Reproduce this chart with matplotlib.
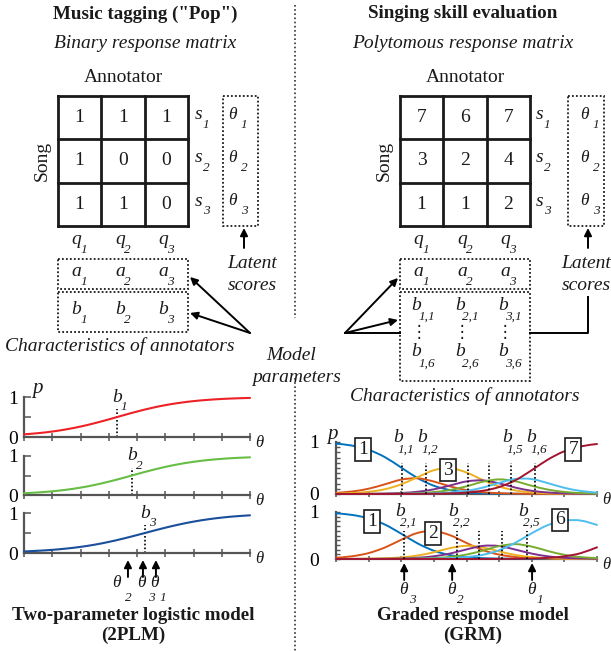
import numpy as np
import matplotlib
matplotlib.use("Agg")
import matplotlib.pyplot as plt
from matplotlib.path import Path
from matplotlib.patches import PathPatch, Rectangle
from matplotlib.transforms import blended_transform_factory

plt.rcParams['font.family'] = ['Liberation Serif', 'DejaVu Sans']

W, H = 611, 651

# response matrices (rows = songs, columns = annotators)
binary_resp = [[1, 1, 1], [1, 0, 0], [1, 1, 0]]
poly_resp = [[7, 6, 7], [3, 2, 4], [1, 1, 2]]

# theta positions where the curves were read (in tick units)
theta = [0, 0.5, 1, 1.5, 2, 2.5, 3, 3.5, 4, 4.5, 5, 5.5, 6, 6.5, 7, 7.5, 8]

# 2PLM curves, one per annotator
plm_q1 = [.067, .096, .137, .192, .261, .345, .440, .540, .636, .723, .796, .853, .897, .928, .951, .966, .977]
plm_q2 = [.045, .066, .095, .135, .189, .258, .342, .436, .536, .633, .720, .793, .851, .895, .927, .950, .966]
plm_q3 = [.039, .056, .079, .111, .153, .208, .277, .358, .448, .541, .632, .714, .784, .841, .885, .918, .942]
plm_b = [3.30, 3.82, 4.28]
plm_theta = [4.67, 3.68, 4.21]      # theta_1, theta_2, theta_3

# GRM category curves (categories 1..7) for annotators 1 and 2
grm_q1 = [
    [.969, .930, .850, .708, .508, .307, .159, .075, .033, .015, .006, .003, .001, 0, 0, 0, 0],
    [.022, .049, .102, .187, .276, .302, .240, .146, .075, .034, .016, .006, .003, .002, .001, 0, 0],
    [.008, .019, .042, .092, .186, .324, .457, .497, .413, .269, .144, .069, .031, .013, .006, .003, .001],
    [.001, .001, .004, .009, .020, .043, .090, .165, .242, .261, .205, .123, .062, .029, .012, .005, .003],
    [0, .001, .001, .003, .007, .016, .037, .077, .148, .236, .281, .244, .158, .084, .040, .018, .007],
    [0, 0, .001, .001, .002, .006, .012, .028, .062, .123, .214, .290, .287, .208, .119, .059, .027],
    [0, 0, 0, 0, .001, .002, .005, .012, .027, .062, .134, .265, .458, .664, .822, .915, .962],
]
grm_q1_b = [2.02, 2.76, 4.05, 4.69, 5.37, 6.10]
grm_q2 = [
    [.972, .937, .864, .732, .538, .332, .176, .083, .037, .017, .007, .003, .001, 0, 0, 0, 0],
    [.026, .059, .126, .245, .410, .555, .594, .505, .342, .190, .093, .043, .019, .009, .004, .002, .001],
    [.001, .003, .007, .016, .035, .074, .144, .232, .281, .246, .162, .086, .041, .018, .008, .003, .001],
    [.001, .001, .002, .005, .012, .027, .058, .117, .204, .279, .276, .200, .115, .056, .025, .012, .005],
    [0, 0, .001, .001, .004, .009, .020, .045, .095, .178, .274, .316, .265, .169, .089, .041, .019],
    [0, 0, 0, .001, .001, .003, .008, .018, .041, .089, .186, .347, .548, .723, .817, .818, .725],
    [0, 0, 0, 0, 0, 0, 0, 0, 0, .001, .002, .005, .011, .025, .057, .124, .249],
]
grm_q2_b = [2.09, 3.71, 4.39, 5.09, 5.86]
grm_theta = [6.01, 3.56, 2.09]      # theta_1, theta_2, theta_3

plm_colors = ['#ec2227', '#67bd45', '#1b4f9c']
grm_colors = ['#0072BD', '#D95319', '#EDB120', '#7E2F8E', '#77AC30', '#4DBEEE', '#A2142F']

fig = plt.figure(figsize=(W / 100, H / 100), dpi=100)
ax0 = fig.add_axes([0, 0, 1, 1])
ax0.set_xlim(0, W)
ax0.set_ylim(H, 0)
ax0.axis('off')

INK = '#1a1a1a'
FS = 14
TFS = 13.7
SUB = 9.5


def txt(x, y, s, size=FS, **kw):
    ax0.text(x, y, s, fontsize=size, ha='center', va='center', color=INK, **kw)


def slabel(ax, xy, base, sub, off=(7, -9), coords='data', size=FS, ssize=SUB, boff=(0, 0)):
    ax.annotate(base, xy, xycoords=coords, xytext=boff, textcoords='offset pixels',
                fontsize=size, style='italic', ha='center', va='center', color=INK,
                annotation_clip=False)
    ax.annotate(sub, xy, xycoords=coords, xytext=(boff[0] + off[0], boff[1] + off[1]),
                textcoords='offset pixels', fontsize=ssize, style='italic',
                ha='center', va='center', color=INK, annotation_clip=False)


def arrow(p_from, p_to, head=True):
    ax0.annotate('', xy=p_to, xytext=p_from,
                 arrowprops=dict(arrowstyle='-|>' if head else '-', color='k', lw=1.4,
                                 mutation_scale=11, shrinkA=0, shrinkB=0))


def dotbox(x0, y0, x1, y1):
    ax0.add_patch(Rectangle((x0, y0), x1 - x0, y1 - y0, fill=False, ec=INK,
                            lw=1.3, ls=(0, (1, 1.2))))


def smooth(ax, xs, ys, color, lw=1.4):
    pts = np.column_stack([xs, ys]).astype(float)
    n = len(pts)
    verts, codes = [pts[0]], [Path.MOVETO]
    for i in range(n - 1):
        p0, p1 = pts[max(i - 1, 0)], pts[i]
        p2, p3 = pts[i + 1], pts[min(i + 2, n - 1)]
        verts += [p1 + (p2 - p0) / 6, p2 - (p3 - p1) / 6, p2]
        codes += [Path.CURVE4] * 3
    ax.add_patch(PathPatch(Path(verts, codes), fill=False, ec=color, lw=lw,
                           zorder=3, clip_on=False, capstyle='round'))


# ---------------- top part: matrices ----------------
CELL = 43.3
Y0 = 96


def panel(mx, vals, s_x, box, th_x):
    n = len(vals)
    for i in range(n + 1):
        ax0.plot([mx, mx + n * CELL], [Y0 + i * CELL] * 2, color=INK, lw=2, solid_capstyle='projecting')
        ax0.plot([mx + i * CELL] * 2, [Y0, Y0 + n * CELL], color=INK, lw=2, solid_capstyle='projecting')
    for r, row in enumerate(vals):
        cy = Y0 + (r + 0.5) * CELL
        for c, v in enumerate(row):
            txt(mx + (c + 0.5) * CELL, cy, str(v))
        slabel(ax0, (s_x, cy - 3), 's', str(r + 1), off=(7, -10))
        slabel(ax0, (th_x, cy - 3), '\u03b8', str(r + 1), off=(12, -10), size=12.5)
    dotbox(box[0], Y0, box[1], Y0 + n * CELL)
    txt(mx + n * CELL / 2, 78, 'Annotator')
    txt(mx - 16, Y0 + n * CELL / 2, 'Song', rotation=90)
    for c in range(n):
        cx = mx + (c + 0.5) * CELL
        slabel(ax0, (cx - 3, 240), 'q', str(c + 1), off=(7, -10))
        slabel(ax0, (cx - 3, 272), 'a', str(c + 1), off=(7, -10))
    dotbox(mx, 259, mx + n * CELL, 289)


# left: music tagging
txt(145, 14, 'Music tagging ("Pop")', size=TFS, weight='bold')
txt(145, 44, 'Binary response matrix', style='italic')
panel(58, binary_resp, 199, (223, 258), 232)
for c in range(3):
    slabel(ax0, (58 + (c + 0.5) * CELL - 3, 310), 'b', str(c + 1), off=(7, -10))
dotbox(58, 292, 188, 332)
txt(120, 346, 'Characteristics of annotators', style='italic')
txt(252, 263, 'Latent', style='italic')
txt(252, 286, 'scores', style='italic')
arrow((244, 248), (244, 228))
arrow((250, 333), (190, 277))
arrow((250, 333), (190, 313))
txt(291, 355, 'Model', style='italic')
txt(297, 377, 'parameters', style='italic')

# right: singing skill
txt(463, 14, 'Singing skill evaluation', size=TFS, weight='bold')
txt(463, 44, 'Polytomous response matrix', style='italic')
panel(400, poly_resp, 540, (568, 604), 584)
for c in range(3):
    cx = 400 + (c + 0.5) * CELL
    slabel(ax0, (cx - 5, 305), 'b', '%d,1' % (c + 1), off=(10, -12))
    txt(cx - 3, 333, '\u22ee', size=12)
    slabel(ax0, (cx - 5, 352), 'b', '%d,6' % (c + 1), off=(10, -12))
dotbox(400, 292, 530, 381)
txt(465, 396, 'Characteristics of annotators', style='italic')
txt(586, 263, 'Latent', style='italic')
txt(586, 286, 'scores', style='italic')
arrow((588, 248), (588, 228))
ax0.plot([530, 588, 588], [333, 333, 297], color='k', lw=1.4)
arrow((345, 333), (398, 278))
arrow((345, 333), (398, 320))
ax0.plot([345, 400], [333, 333], color='k', lw=1.4)

# separator
ax0.plot([295, 295], [5, 318], color='#333', lw=1.2, ls=(0, (1, 1.5)))
ax0.plot([295, 295], [378, 651], color='#333', lw=1.2, ls=(0, (1, 1.5)))


# ---------------- bottom part: curves ----------------
def make_axes(x0, y0, x1, y1, dense=False):
    ax = fig.add_axes([x0 / W, 1 - y1 / H, (x1 - x0) / W, (y1 - y0) / H])
    ax.patch.set_alpha(0)
    for s in ['top', 'right']:
        ax.spines[s].set_visible(False)
    for s in ['left', 'bottom']:
        ax.spines[s].set_color('#555555')
        ax.spines[s].set_linewidth(1.6)
    ax.set_xticks(range(9))
    ax.set_xticklabels([])
    ax.tick_params(axis='x', direction='inout', length=6 if not dense else 5, width=1.1, color='#555555')
    if dense:
        yt = [i / 10 for i in range(11)]
        ax.set_yticks(yt)
        ax.set_yticklabels(['0'] + [''] * 9 + ['1'])
        ax.tick_params(axis='y', direction='in', length=3, width=1, color='#555555',
                       labelsize=FS, pad=12)
    else:
        ax.set_yticks([0, 0.5, 1])
        ax.set_yticklabels(['0', '', '1'])
        ax.tick_params(axis='y', direction='in', length=5, width=1.1, color='#555555',
                       labelsize=FS, pad=4)
    ax.annotate('\u03b8', (1, 0), xycoords='axes fraction', xytext=(9, -6),
                textcoords='offset pixels', fontsize=12, style='italic',
                ha='center', va='center', color=INK, annotation_clip=False)
    return ax


def finish(ax):
    ax.set_xlim(0, 8)
    ax.set_ylim(0, 1)


# 2PLM
plm_rows = [(397, 437), (456, 495), (513, 553)]
plm_axes = []
for k, (curve, b, (ya, yb)) in enumerate(zip([plm_q1, plm_q2, plm_q3], plm_b, plm_rows)):
    ax = make_axes(24, ya, 250, yb)
    smooth(ax, theta, curve, plm_colors[k], lw=1.5)
    ax.plot([b, b], [0, 0.7], color='k', lw=1.2, ls=(0, (1, 1.3)))
    slabel(ax, (b, 1.0), 'b', str(k + 1), off=(7, -10))
    finish(ax)
    plm_axes.append(ax)
ax0.text(37, 389, 'p', fontsize=15, style='italic', ha='center', va='center', color=INK)

blend = blended_transform_factory(plm_axes[2].transData, ax0.transData)
plm_lab = [(-2, 7), (-12, 0), (-2, 8)]
for k, t in enumerate(plm_theta):
    ax0.annotate('', xy=(t, 560), xycoords=blend, xytext=(t, 577), textcoords=blend,
                 arrowprops=dict(arrowstyle='-|>', color='k', lw=1.4, mutation_scale=11,
                                 shrinkA=0, shrinkB=0))
    ax0.annotate('\u03b8', (t, 583), xycoords=blend, xytext=(plm_lab[k][0], 0),
                 textcoords='offset pixels', fontsize=12.5, style='italic',
                 ha='center', va='center', color=INK)
    ax0.annotate(str(k + 1), (t, 598), xycoords=blend, xytext=(plm_lab[k][1], 0),
                 textcoords='offset pixels', fontsize=SUB, style='italic',
                 ha='center', va='center', color=INK)
txt(133, 615, 'Two-parameter logistic model', size=TFS, weight='bold')
txt(133, 635, '(2PLM)', size=TFS, weight='bold')

# GRM
grm_rows = [(442, 494), (512, 559)]
grm_sets = [(grm_q1, grm_q1_b, 1, [0, 1, 4, 5], 4), (grm_q2, grm_q2_b, 2, [0, 1, 4], 1)]
grm_boxes = [[(0, 0.83, 0.85), (2, 3.44, 0.46), (6, 7.27, 0.85)],
             [(0, 1.10, 0.79), (1, 2.98, 0.55), (5, 6.87, 0.83)]]
grm_axes = []
for (curves, bs, q, shown, lift), (ya, yb), boxes in zip(grm_sets, grm_rows, grm_boxes):
    ax = make_axes(336, ya, 597, yb, dense=True)
    for k, curve in enumerate(curves):
        smooth(ax, theta, curve, grm_colors[k], lw=1.4)
    for j, b in enumerate(bs):
        ax.plot([b, b], [0, 0.6], color='k', lw=1.2, ls=(0, (1, 1.3)), zorder=4)
        if j in shown:
            slabel(ax, (b, 1.0), 'b', '%d,%d' % (q, j + 1), off=(8, -12), boff=(-4, lift))
    for cat, u, v in boxes:
        ax.text(u, v, str(cat + 1), fontsize=FS, ha='center', va='center', color=INK, zorder=5,
                bbox=dict(boxstyle='square,pad=0.15', fc='white', ec=INK, lw=1.2))
    finish(ax)
    grm_axes.append(ax)
ax0.text(332, 434, 'p', fontsize=15, style='italic', ha='center', va='center', color=INK)

blend = blended_transform_factory(grm_axes[1].transData, ax0.transData)
for k, t in enumerate(grm_theta):
    ax0.annotate('', xy=(t, 563), xycoords=blend, xytext=(t, 580), textcoords=blend,
                 arrowprops=dict(arrowstyle='-|>', color='k', lw=1.4, mutation_scale=11,
                                 shrinkA=0, shrinkB=0))
    ax0.annotate('\u03b8', (t, 590), xycoords=blend, xytext=(-1, 0),
                 textcoords='offset pixels', fontsize=12.5, style='italic',
                 ha='center', va='center', color=INK)
    ax0.annotate(str(k + 1), (t, 600), xycoords=blend, xytext=(8, 0),
                 textcoords='offset pixels', fontsize=SUB, style='italic',
                 ha='center', va='center', color=INK)
txt(473, 615, 'Graded response model', size=TFS, weight='bold')
txt(473, 635, '(GRM)', size=TFS, weight='bold')

fig.savefig('out.png', dpi=100)
